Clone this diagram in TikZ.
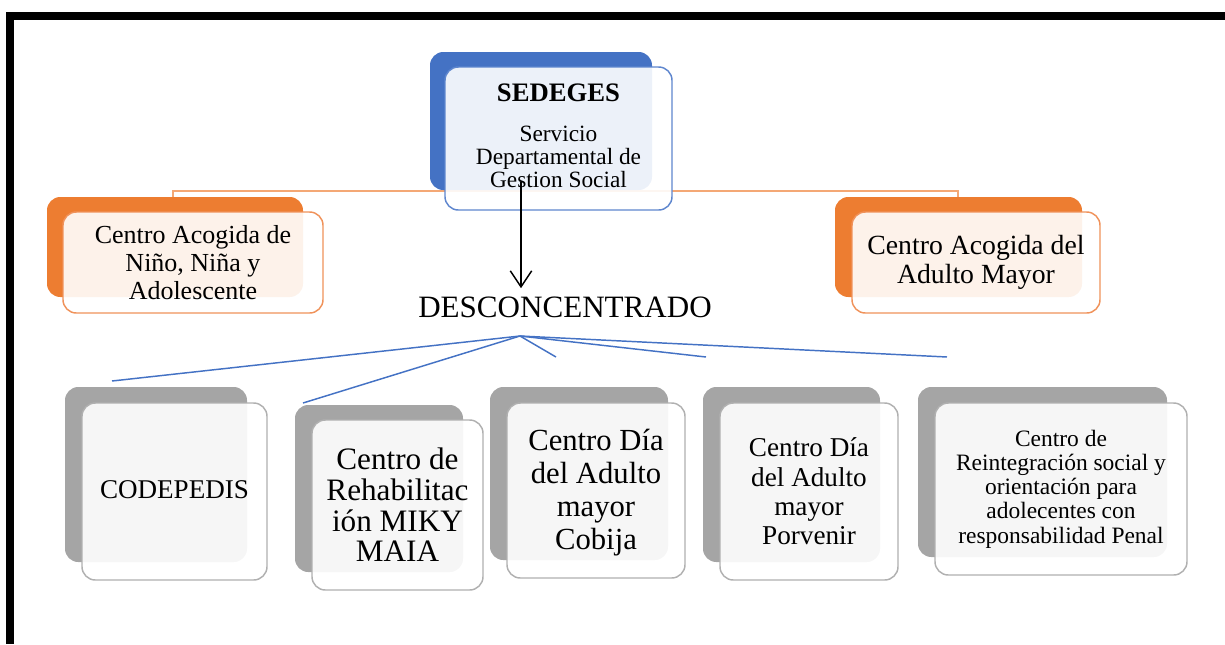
\documentclass[tikz,border=0pt]{standalone}
\usepackage{fontspec}
\setmainfont{Liberation Serif}
\usetikzlibrary{fit,arrows.meta}
\definecolor{cblue}{HTML}{4472C4}
\definecolor{cblueline}{HTML}{5E86CE}
\definecolor{corange}{HTML}{ED7D31}
\definecolor{corangeline}{HTML}{F0925A}
\definecolor{clightorange}{HTML}{F4A875}
\definecolor{cgray}{HTML}{A5A5A5}
\definecolor{cgrayline}{HTML}{B0B0B0}
\begin{document}
\begin{tikzpicture}[x=0.75pt,y=-0.75pt,
  back/.style={rounded corners=10pt, inner sep=0pt, fill=#1},
  front/.style={rounded corners=10pt, inner sep=0pt, draw=#1, line width=1.1pt,
    fill=white, fill opacity=0.9},
  txt/.style={align=center, inner sep=0pt, text=black},
  fs/.style 2 args={font=\fontsize{#1}{#2}\selectfont},
  oline/.style={clightorange, line width=1.7pt},
  fanline/.style={cblue, line width=1.1pt},
  arrowline/.style={black, line width=1.1pt, -{Straight Barb[length=12pt,width=16pt,line width=1.1pt]}}
]
\useasboundingbox (0,0) rectangle (1225,644);
% frame
\fill[black] (6,12) rectangle (1225,20);
\fill[black] (6,12) rectangle (14,644);

% orange connector
\coordinate (jL) at (173,197);
\coordinate (hub) at (558,191);
\coordinate (jR) at (958,197);
\draw[oline] (jL) |- (hub) -| (jR);

% back boxes
\node[back=cblue, fit={(430,52) (652,190)}] (sedB) {};
\node[back=corange, fit={(47,197) (303,297)}] (aclB) {};
\node[back=corange, fit={(835,197) (1082,297)}] (acrB) {};
\node[back=cgray, fit={(65,387) (247,562)}] (g1B) {};
\node[back=cgray, fit={(295,405) (463,572)}] (g2B) {};
\node[back=cgray, fit={(490,387) (668,560)}] (g3B) {};
\node[back=cgray, fit={(703,387) (880,562)}] (g4B) {};
\node[back=cgray, fit={(918,387) (1167,557)}] (g5B) {};

% front boxes
\node[front=cblueline, fit={(445,67) (672,210)}] (sedF) {};
\node[front=corangeline, fit={(63,212) (323,313)}] (aclF) {};
\node[front=corangeline, fit={(852,212) (1100,313)}] (acrF) {};
\node[front=cgrayline, fit={(82,403) (267,580)}] (g1F) {};
\node[front=cgrayline, fit={(312,420) (483,590)}] (g2F) {};
\node[front=cgrayline, fit={(507,403) (685,578)}] (g3F) {};
\node[front=cgrayline, fit={(720,403) (898,580)}] (g4F) {};
\node[front=cgrayline, fit={(935,403) (1187,575)}] (g5F) {};

% texts
\node[txt, fs={17.5}{17.25}, yshift=2.25pt] (sedT) at (sedF.center)
  {{\fontsize{20}{20}\selectfont\bfseries SEDEGES}\\[12.75pt]Servicio\\Departamental de\\Gestion Social};
\node[txt, fs={19.5}{21}] (aclT) at (aclF.center)
  {Centro Acogida de\\Niño, Niña y\\Adolescente};
\node[txt, fs={20.8}{22}] (acrT) at (acrF.center)
  {Centro Acogida del\\Adulto Mayor};
\node[txt, fs={20.3}{22}, yshift=1.5pt] (g1T) at (g1F.center) {CODEPEDIS};
\node[txt, fs={23.4}{23}] (g2T) at (g2F.center)
  {Centro de\\Rehabilitac\\ión MIKY\\MAIA};
\node[txt, fs={23}{24.75}, yshift=-1.5pt] (g3T) at (g3F.center)
  {Centro Día\\del Adulto\\mayor\\Cobija};
\node[txt, fs={20.4}{22}] (g4T) at (g4F.center)
  {Centro Día\\del Adulto\\mayor\\Porvenir};
\node[txt, fs={17.6}{18.2}] (g5T) at (g5F.center)
  {Centro de\\Reintegración social y\\orientación para\\adolecentes con\\responsabilidad Penal};

% DESCONCENTRADO
\node[anchor=base, fs={23.3}{28}, inner xsep=2pt, inner ysep=6pt] (desc) at (565,317) {DESCONCENTRADO};

% arrow
\coordinate (astart) at (521,182);
\draw[arrowline] (astart) -- (astart |- desc.north);

% fan lines
\coordinate (fan) at (520,336);
\coordinate (e1) at (112,381);
\coordinate (e2) at (303,403);
\coordinate (e3) at (556,357);
\coordinate (e4) at (706,357);
\coordinate (e5) at (947,357);
\foreach \e in {e1,e2,e3,e4,e5} \draw[fanline] (fan) -- (\e);
\end{tikzpicture}
\end{document}
